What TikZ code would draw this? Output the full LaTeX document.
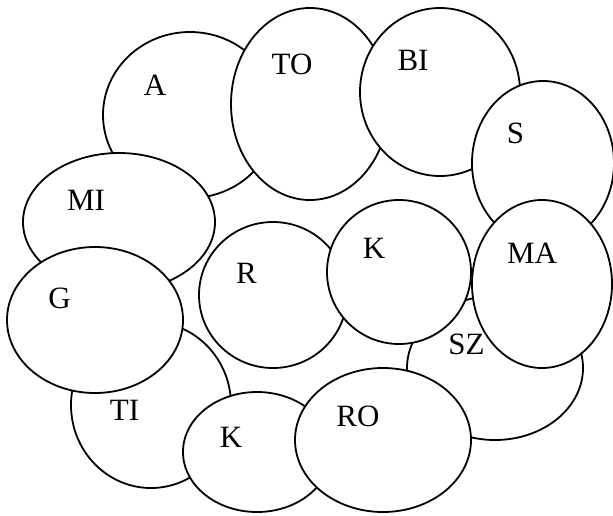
\documentclass[tikz,border=0pt]{standalone}
\usepackage{fontspec}
\setmainfont{Liberation Serif}
\usetikzlibrary{shapes.geometric}
\begin{document}
\begin{tikzpicture}[x=1pt,y=-1pt,
  blob/.style={draw=black, fill=white, ellipse, line width=1.8pt, inner sep=0pt},
  lbl/.style={font=\fontsize{31}{31}\selectfont, inner sep=0pt}]
\useasboundingbox (0,0) rectangle (613,515);
\fill[white] (0,0) rectangle (613,515);
\node[blob, minimum width=174pt, minimum height=166pt] (eA)  at (190,115) {};
\node[blob, minimum width=158pt, minimum height=192pt] (eTO) at (310,104) {};
\node[blob, minimum width=160pt, minimum height=168pt] (eBI) at (440,92) {};
\node[blob, minimum width=142pt, minimum height=164pt] (eS)  at (543,163) {};
\node[blob, minimum width=192pt, minimum height=138pt] (eMI) at (119,222) {};
\node[blob, minimum width=160pt, minimum height=166pt] (eTI) at (151,405) {};
\node[blob, minimum width=176pt, minimum height=146pt] (eG)  at (95,320) {};
\node[blob, minimum width=148pt, minimum height=146pt] (eR)  at (273,295) {};
\node[blob, minimum width=176pt, minimum height=144pt] (eSZ) at (495,368) {};
\node[blob, minimum width=144pt, minimum height=144pt] (eKm) at (399,272) {};
\node[blob, minimum width=140pt, minimum height=168pt] (eMA) at (542,284) {};
\node[blob, minimum width=148pt, minimum height=120pt] (eKb) at (257,452) {};
\node[blob, minimum width=176pt, minimum height=144pt] (eRO) at (383,440) {};
\node[lbl] (tA)  at (155,85) {A};
\node[lbl] (tTO) at (292,64) {TO};
\node[lbl] (tBI) at (413,60.5) {BI};
\node[lbl] (tS)  at (515.5,133.5) {S};
\node[lbl] (tMI) at (86,200.5) {MI};
\node[lbl] (tG)  at (59.5,298) {G};
\node[lbl] (tR)  at (246.5,273) {R};
\node[lbl] (tTI) at (124.5,410) {TI};
\node[lbl] (tKb) at (231,437.5) {K};
\node[lbl] (tRO) at (358,416.5) {RO};
\node[lbl] (tSZ) at (466.5,344.5) {SZ};
\node[lbl] (tMA) at (532,253) {MA};
\node[lbl] (tKm) at (374,248) {K};
\end{tikzpicture}
\end{document}
